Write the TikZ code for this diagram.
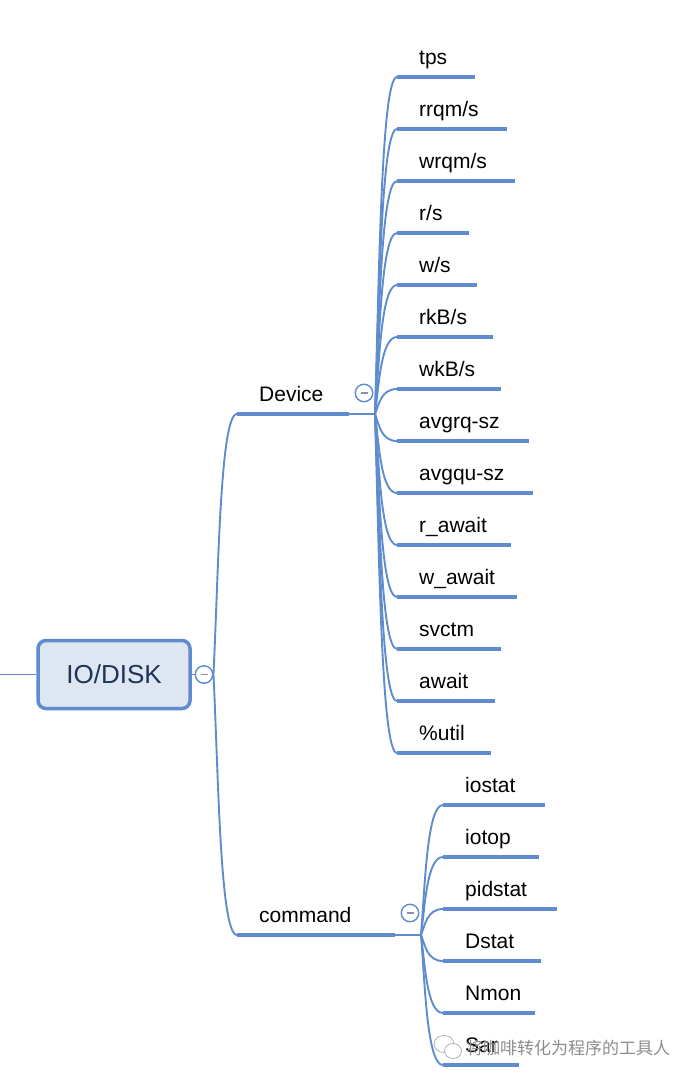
\documentclass[tikz,border=0pt]{standalone}
\usepackage{fontspec}
\setmainfont{Liberation Sans}
\newfontfamily\cjk{Noto Sans CJK SC}
\usetikzlibrary{calc}
\definecolor{linec}{RGB}{94,140,206}
\definecolor{rootfill}{RGB}{222,230,242}
\definecolor{roottext}{RGB}{28,52,86}
\definecolor{foldmark}{RGB}{140,142,184}

\begin{document}
\begin{tikzpicture}[x=1pt, y=-1pt]
    \tikzstyle{branch} = [draw=linec, line width=1.9pt]
    \tikzstyle{uline} = [draw=linec, line width=4.5pt]
    \tikzstyle{topic} = [anchor=base west, inner sep=0pt, font=\fontsize{21}{25}\selectfont]
    \tikzstyle{rootbox} = [rectangle, rounded corners=8pt, minimum width=152pt, minimum height=68pt, draw=linec, line width=3.5pt, fill=rootfill, text=roottext, font=\fontsize{26}{30}\selectfont]
    \tikzstyle{fold} = [circle, minimum size=17.5pt, inner sep=0pt, draw=linec, line width=1.4pt, fill=white, path picture={\draw[foldmark, line width=1.8pt] ([xshift=-3.5pt]path picture bounding box.center) -- ([xshift=3.5pt]path picture bounding box.center);}]
    \tikzstyle{wmark} = [anchor=west, inner sep=0pt, font=\cjk\fontsize{17}{20}\selectfont]

    \useasboundingbox (0,0) rectangle (694,1080);

    \node (root) [rootbox] at (114,674.5) {IO/DISK};
    \node (rootfold) [fold] at (204,674.5) {};
    \coordinate (west) at (0,674.5);
    \draw [branch] (west) -- (root.west);
    \draw [branch] (root.east) -- (rootfold.west);

    \coordinate (devl) at (237,414);
    \coordinate (devr) at (349,414);
    \coordinate (devj) at (375,414);
    \node (device) [topic] at (259,401) {Device};
    \draw [uline] (devl) -- (devr);
    \draw [branch] (devr) -- (devj);
    \draw [branch] (rootfold.east) .. controls +(5,-100) and +(-17,0) .. (devl);

    \coordinate (cmdl) at (237,935);
    \coordinate (cmdr) at (395,935);
    \coordinate (cmdj) at (421,935);
    \node (command) [topic] at (259,922) {command};
    \draw [uline] (cmdl) -- (cmdr);
    \draw [branch] (cmdr) -- (cmdj);
    \draw [branch] (rootfold.east) .. controls +(5,100) and +(-17,0) .. (cmdl);

    \foreach \lbl/\e [count=\i from 0] in {tps/475, {rrqm/s}/507, {wrqm/s}/515, {r/s}/469, {w/s}/477, {rkB/s}/493, {wkB/s}/501, avgrq-sz/529, avgqu-sz/533, r\_await/511, w\_await/517, svctm/501, await/495, \%util/491} {
        \pgfmathsetmacro\yy{77+52*\i}
        \pgfmathsetmacro\hh{(\yy-414)*0.38}
        \coordinate (dev\i) at (397,\yy);
        \coordinate (devend\i) at (\e,\yy);
        \node (devtxt\i) [topic] at (419,\yy-13) {\lbl};
        \draw [uline] (dev\i) -- (devend\i);
        \draw [branch] (devj) .. controls +(4,\hh) and +(-16,0) .. (dev\i);
    }

    \foreach \lbl/\e [count=\i from 0] in {iostat/545, iotop/539, pidstat/557, Dstat/541, Nmon/535, Sar/519} {
        \pgfmathsetmacro\yy{805+52*\i}
        \pgfmathsetmacro\hh{(\yy-935)*0.38}
        \coordinate (cmd\i) at (443,\yy);
        \coordinate (cmdend\i) at (\e,\yy);
        \node (cmdtxt\i) [topic] at (465,\yy-13) {\lbl};
        \draw [uline] (cmd\i) -- (cmdend\i);
        \draw [branch] (cmdj) .. controls +(4,\hh) and +(-16,0) .. (cmd\i);
    }

    \node (devfold) [fold] at (364,393) {};
    \node (cmdfold) [fold] at (410,913) {};

    \draw [gray!60, fill=white, line width=0.8pt] (444,1044) ellipse [x radius=10, y radius=8.5];
    \draw [gray!60, fill=white, line width=0.8pt] (453,1051) ellipse [x radius=8.5, y radius=7.5];
    \node (wmtext) [wmark, text=black!45] at (466,1048) {将咖啡转化为程序的工具人};
\end{tikzpicture}
\end{document}
